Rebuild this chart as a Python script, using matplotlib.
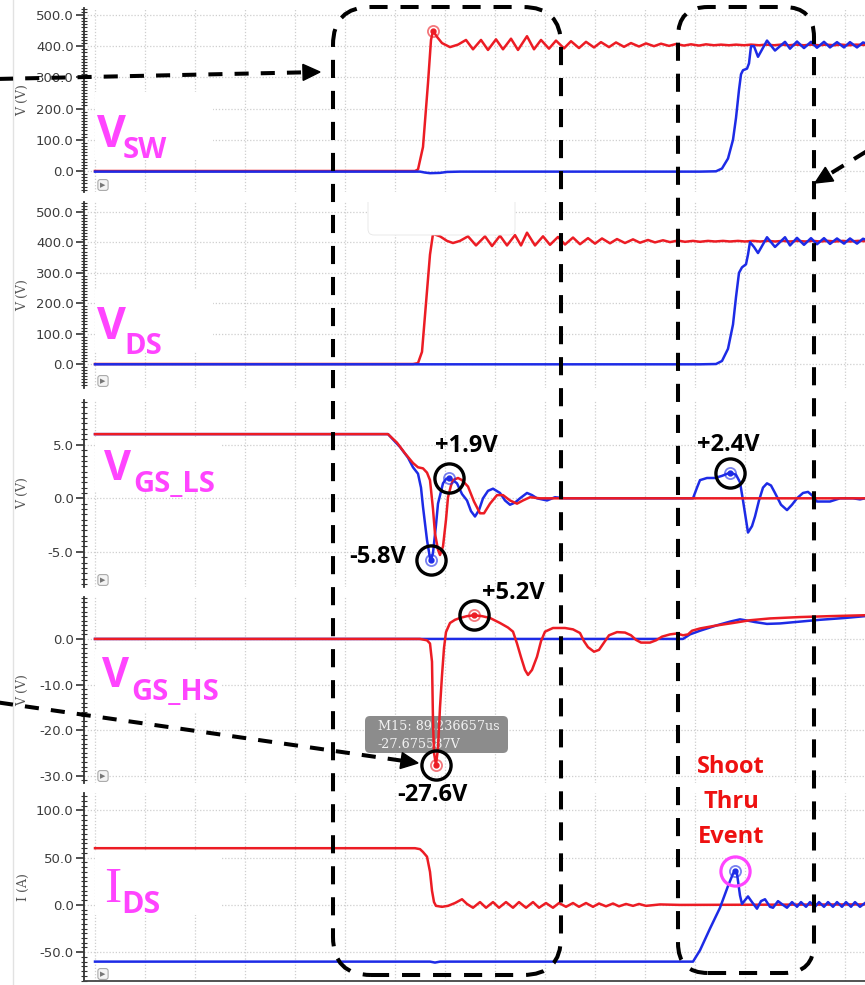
import numpy as np
import matplotlib
matplotlib.use("Agg")
import matplotlib.pyplot as plt
from matplotlib.patches import FancyBboxPatch, Polygon, Rectangle
from matplotlib.lines import Line2D
from matplotlib.transforms import IdentityTransform
from matplotlib.ticker import MultipleLocator, FormatStrFormatter

# ---------------- data: (time [ns, relative], value) ----------------
VSW_RED = [(0, 0), (320, 0), (323, 5), (328, 77), (333, 282), (336, 420), (338, 449), (342, 430), (347, 410),
           (355, 397), (363, 405), (371, 420), (378, 390), (386, 420), (393, 388), (401, 422), (408, 390),
           (416, 424), (423, 388), (432, 432), (439, 390), (446, 420), (454, 392), (461, 418), (469, 393),
           (476, 416), (484, 394), (491, 414), (499, 396), (506, 413), (514, 397), (521, 412), (529, 398),
           (536, 410), (544, 399), (551, 409), (559, 400), (566, 408), (574, 401), (581, 407), (589, 402),
           (596, 406), (604, 402), (611, 406), (619, 403), (626, 405), (634, 403), (641, 405), (649, 403),
           (656, 405), (664, 403), (671, 405), (679, 403), (686, 405), (694, 403), (701, 405), (709, 403),
           (716, 405), (724, 403), (731, 405), (739, 403), (746, 405), (754, 403), (761, 405), (770, 404)]
VSW_BLUE = [(0, -2), (325, -2), (330, -5), (335, -7), (345, -6), (352, -3), (365, -2), (605, -2), (621, -1),
            (627, 8), (633, 40), (638, 100), (641, 170), (644, 260), (646, 310), (648, 323), (652, 328),
            (654, 345), (656, 400), (659, 400), (663, 366), (672, 418), (680, 386), (690, 414), (695, 392),
            (702, 415), (709, 394), (716, 414), (722, 395), (729, 414), (735, 396), (742, 413), (749, 396),
            (755, 413), (762, 396), (768, 412), (770, 410)]
VDS_RED = [(0, 0), (318, 0), (323, 3), (327, 40), (331, 200), (335, 360), (338, 428), (345, 420), (352, 405),
           (358, 398), (365, 405), (373, 420), (381, 390), (390, 420), (397, 388), (405, 422), (412, 390),
           (420, 424), (426, 390), (432, 432), (440, 390), (448, 420), (455, 392), (463, 418), (470, 393),
           (478, 416), (485, 394), (493, 414), (500, 396), (507, 413), (515, 397), (522, 411), (530, 398),
           (538, 410), (545, 399), (553, 408), (560, 400), (568, 407), (575, 401), (583, 406), (590, 402),
           (598, 405), (605, 402), (613, 405), (620, 403), (628, 405), (635, 403), (643, 405), (650, 403),
           (658, 405), (665, 403), (673, 405), (680, 403), (688, 405), (695, 403), (703, 405), (710, 403),
           (718, 405), (725, 403), (733, 405), (740, 403), (748, 405), (755, 403), (763, 405), (770, 404)]
VDS_BLUE = [(0, -1), (605, -1), (621, 0), (627, 10), (633, 50), (638, 130), (641, 220), (644, 300), (647, 318),
            (651, 328), (653, 360), (655, 401), (659, 385), (663, 365), (672, 417), (680, 385), (690, 417),
            (695, 390), (702, 415), (709, 392), (716, 414), (722, 394), (729, 414), (735, 395), (742, 413),
            (749, 396), (755, 413), (762, 396), (768, 412), (770, 410)]
VGSLS_RED = [(0, 6.0), (293, 6.0), (302, 5.2), (310, 4.2), (318, 3.3), (323, 2.9), (328, 2.8), (332, 2.4),
             (335, 1.7), (338, -1.0), (340, -3.3), (343, -4.8), (345, -5.3), (348, -4.5), (351, -2.0),
             (353, 0.1), (356, 1.2), (358, 1.7), (363, 1.9), (367, 1.7), (373, 1.1), (379, -0.3), (385, -1.4),
             (389, -1.4), (395, -0.5), (402, 0.3), (408, 0.3), (415, -0.2), (422, -0.5), (428, -0.2),
             (435, 0.1), (445, 0.0), (770, 0.0)]
VGSLS_BLUE = [(0, 6.0), (293, 6.0), (305, 4.8), (313, 3.8), (318, 2.9), (323, 2.3), (326, 1.0), (328, -0.8),
              (332, -3.9), (335, -5.6), (336, -5.8), (338, -5.1), (341, -2.5), (343, -0.5), (348, 1.4),
              (351, 1.8), (354, 1.9), (358, 1.7), (362, 1.4), (367, 0.4), (372, -0.2), (376, -1.2), (380, -1.7),
              (384, -1.1), (388, 0.0), (393, 0.7), (398, 0.9), (405, 0.5), (410, -0.2), (415, -0.6),
              (420, -0.4), (425, 0.0), (432, 0.5), (437, 0.3), (442, 0.0), (452, -0.2), (460, 0.1), (470, 0.0),
              (598, 0.0), (602, 1.0), (605, 1.7), (612, 1.9), (620, 1.9), (627, 2.1), (635, 2.4), (641, 2.2),
              (645, 1.5), (648, -0.2), (651, -2.0), (653, -3.2), (657, -2.6), (660, -1.7), (664, -0.2),
              (668, 1.0), (672, 1.4), (676, 1.2), (680, 0.5), (686, -0.6), (692, -1.1), (697, -0.6), (702, 0.0),
              (708, 0.5), (713, 0.6), (718, 0.2), (722, -0.3), (727, -0.3), (735, -0.3), (745, 0.0), (758, 0.0),
              (765, -0.1), (770, 0.0)]
VGSHS_RED = [(0, 0), (325, 0), (332, -0.3), (335, -1.0), (337, -5.0), (338, -18.0), (339, -25.0), (341, -27.6),
             (343, -24.0), (345, -15.0), (347, -8.0), (349, -2.0), (351, 1.5), (355, 3.5), (360, 4.2),
             (365, 4.6), (372, 5.0), (379, 5.2), (387, 5.0), (395, 4.6), (405, 3.5), (413, 2.5), (418, 1.6),
             (422, -1.0), (426, -4.0), (430, -6.8), (433, -7.9), (437, -6.8), (442, -3.9), (446, -0.5),
             (450, 1.6), (458, 2.4), (470, 2.4), (478, 2.1), (485, 1.3), (489, -0.5), (493, -1.8), (499, -2.8),
             (504, -2.4), (509, -0.8), (514, 0.8), (522, 1.5), (530, 1.4), (536, 0.8), (541, -0.2), (546, -0.8),
             (555, -0.8), (561, -0.3), (567, 0.5), (575, 1.0), (582, 1.2), (588, 0.8), (593, 1.0), (597, 1.8),
             (605, 2.3), (620, 2.9), (638, 3.5), (655, 4.1), (675, 4.5), (705, 4.8), (735, 5.0), (770, 5.2)]
VGSHS_BLUE = [(0, 0), (588, 0), (595, 1.0), (605, 1.8), (622, 3.0), (635, 3.8), (645, 4.3), (653, 4.0),
              (660, 3.7), (672, 3.3), (685, 3.4), (705, 3.8), (725, 4.2), (750, 4.6), (770, 5.0)]
IDS_RED = [(0, 60), (320, 60), (325, 59), (328, 56), (332, 51), (335, 35), (337, 15), (339, 3), (341, -1),
           (347, -2), (353, -1), (360, 2), (367, 6), (372, 1), (378, -3), (385, 3), (391, -3), (398, 3),
           (404, -3), (411, 3), (418, -3), (424, 3), (431, -3), (438, 3), (444, -3), (451, 2), (458, -3),
           (464, 2), (471, -2), (478, 2), (484, -2), (491, 2), (498, -2), (504, 1.5), (511, -1.5), (518, 1.5),
           (524, -1.5), (531, 1), (538, -1), (544, 1), (551, -1), (565, 0.5), (585, 0), (770, 0.5)]
IDS_BLUE = [(0, -60), (335, -60), (340, -61), (345, -60), (598, -60), (605, -48), (615, -25), (625, -3),
            (633, 20), (638, 33), (640, 36), (642, 33), (645, 10), (647, 1), (650, 5), (653, 9), (657, 3),
            (662, -4), (666, 4), (670, 6), (675, -2), (678, -3), (683, 4), (688, 0), (692, -3), (697, 3),
            (702, -2), (706, 3), (711, -2), (715, 3), (720, -2), (724, 3), (729, -2), (733, 3), (738, -2),
            (742, 3), (747, -2), (751, 3), (756, -2), (760, 3), (765, -2), (770, 2)]

# marked points (time, value) and annotation text
MARK_VSW = [(338, 449)]
MARK_LS = [(336, -5.8), (354, 1.9), (635, 2.4)]
MARK_HS = [(379, 5.2), (341, -27.6)]
MARK_IDS = [(640, 36)]

# ---------------- styling ----------------
W, H = 865, 985
RED = '#ec1c24'
BLUE = '#1d2be6'
MAG = '#ff44ff'
ID = IdentityTransform()

fig = plt.figure(figsize=(W / 100, H / 100), dpi=100)
fig.patch.set_facecolor('white')


def X(px):
    return px / W


def Y(py):
    return 1 - py / H


panels = [
    dict(top=8, bot=192, ylim=(-67.3, 522.4), major=100, minor=10, ylab='V (V)',
         blue=VSW_BLUE, red=VSW_RED, red_on_top=False),
    dict(top=202, bot=388, ylim=(-78.9, 532.9), major=100, minor=10, ylab='V (V)',
         blue=VDS_BLUE, red=VDS_RED, red_on_top=False),
    dict(top=400, bot=587, ylim=(-8.29, 9.19), major=5, minor=0.5, ylab='V (V)',
         blue=VGSLS_BLUE, red=VGSLS_RED, red_on_top=True),
    dict(top=597, bot=783, ylim=(-31.6, 9.2), major=10, minor=1, ylab='V (V)',
         blue=VGSHS_BLUE, red=VGSHS_RED, red_on_top=True),
    dict(top=793, bot=981, ylim=(-80.5, 118.4), major=50, minor=5, ylab='I (A)',
         blue=IDS_BLUE, red=IDS_RED, red_on_top=False),
]

axes = []
for i, p in enumerate(panels):
    ax = fig.add_axes([X(84), Y(p['bot']), (W - 84) / W, (p['bot'] - p['top']) / H])
    axes.append(ax)
    ax.set_xlim(-11, 770)
    ax.set_ylim(*p['ylim'])
    ax.yaxis.set_major_locator(MultipleLocator(p['major']))
    ax.yaxis.set_minor_locator(MultipleLocator(p['minor']))
    ax.yaxis.set_major_formatter(FormatStrFormatter('%.1f'))
    ax.xaxis.set_major_locator(MultipleLocator(50))
    ax.tick_params(axis='x', length=0, labelbottom=False)
    ax.tick_params(axis='y', which='major', direction='out', length=6, width=1.2,
                   color='#333333', labelsize=9.5, labelcolor='#3c3c3c', pad=1.5)
    ax.tick_params(axis='y', which='minor', direction='inout', length=5, width=0.8, color='#333333')
    for s in ['top', 'right', 'bottom']:
        ax.spines[s].set_visible(False)
    ax.spines['left'].set_color('#333333')
    ax.spines['left'].set_linewidth(1.3)
    if i == 4:
        ax.spines['bottom'].set_visible(True)
        ax.spines['bottom'].set_color('#444444')
        ax.spines['bottom'].set_linewidth(1.3)
    ax.grid(True, which='major', color='#cfcfcf', linestyle=(0, (1, 1.5)), linewidth=0.9)
    ax.set_axisbelow(True)
    b = np.array(p['blue'], dtype=float)
    r = np.array(p['red'], dtype=float)
    zr, zb = (2.2, 2.1) if p['red_on_top'] else (2.1, 2.2)
    ax.plot(b[:, 0], b[:, 1], color=BLUE, lw=1.8, zorder=zb, solid_joinstyle='round')
    ax.plot(r[:, 0], r[:, 1], color=RED, lw=1.8, zorder=zr, solid_joinstyle='round')
    fig.text(X(23), Y((p['top'] + p['bot']) / 2), p['ylab'], rotation=90, ha='center', va='center',
             family='DejaVu Serif', size=9, color='#555555')
    # little play-button box
    fig.text(X(103), Y(p['bot'] - 7), '\u25B6', fontsize=5, color='#777777', ha='center', va='center',
             bbox=dict(boxstyle='round,pad=0.35', fc='#f4f4f4', ec='#aaaaaa', lw=0.8))


def white_box(ax, x0, y0, x1, y1, z=1.0, rounded=False):
    if rounded:
        patch = FancyBboxPatch((x0, H - y1), x1 - x0, y1 - y0, boxstyle='round,pad=0,rounding_size=6',
                               transform=ID, fc='white', ec='#e6e6e6', lw=0.6, zorder=z)
    else:
        patch = Rectangle((x0, H - y1), x1 - x0, y1 - y0, transform=ID, fc='white', ec='none', zorder=z)
    ax.add_patch(patch)


white_box(axes[0], 95, 92, 213, 160)
white_box(axes[1], 95, 290, 213, 352)
white_box(axes[1], 368, 196, 515, 235, z=3, rounded=True)
white_box(axes[2], 95, 437, 222, 492)
white_box(axes[3], 95, 650, 222, 712)
white_box(axes[4], 95, 852, 222, 915)

# marker rings
for ax, pts, col in [(axes[0], MARK_VSW, RED), (axes[2], MARK_LS, BLUE), (axes[3], MARK_HS, RED),
                     (axes[4], MARK_IDS, BLUE)]:
    for (t, v) in pts:
        ax.plot([t], [v], 'o', ms=8, mfc='none', mec=col, mew=1.3, alpha=0.6, zorder=4)
        ax.plot([t], [v], 'o', ms=3.5, color=col, zorder=4)

# black highlight circles
for ax, pts in [(axes[2], MARK_LS), (axes[3], MARK_HS)]:
    for (t, v) in pts:
        ax.plot([t], [v], 'o', ms=21, mfc='none', mec='black', mew=2.4, zorder=6, clip_on=False)
t, v = MARK_IDS[0]
axes[4].plot([t], [v], 'o', ms=21, mfc='none', mec=MAG, mew=2.3, zorder=6, clip_on=False)

# tooltip in V_GS_HS panel
ax4 = axes[3]
ax4.add_patch(FancyBboxPatch((365, H - 753), 143, 37, boxstyle='round,pad=0,rounding_size=5', transform=ID,
                             fc='#8c8c8c', ec='none', zorder=1.5))
ax4.text(378, H - 726, 'M15: 89.236657us', transform=ID, family='DejaVu Serif', size=9.2, color='#f2f2f2',
         va='center', ha='left', zorder=1.6)
ax4.text(378, H - 744, '-27.675587V', transform=ID, family='DejaVu Serif', size=9.2, color='#f2f2f2',
         va='center', ha='left', zorder=1.6)

# signal labels
LBL = dict(family='Open Sans', fontweight='bold', color=MAG, ha='left', va='baseline')
fig.text(X(97), Y(147), 'V', fontsize=32, **LBL)
fig.text(X(123), Y(158), 'SW', fontsize=21, **LBL)
fig.text(X(97), Y(339), 'V', fontsize=32, **LBL)
fig.text(X(124), Y(354), 'DS', fontsize=21, **LBL)
fig.text(X(104), Y(480), 'V', fontsize=30, **LBL)
fig.text(X(133), Y(492), 'GS_LS', fontsize=21, **LBL)
fig.text(X(102), Y(687), 'V', fontsize=30, **LBL)
fig.text(X(131), Y(700), 'GS_HS', fontsize=21, **LBL)
fig.text(X(104), Y(902), 'I', fontsize=37, family='Liberation Serif', color=MAG, ha='left', va='baseline')
fig.text(X(121), Y(913), 'DS', fontsize=22, **LBL)

# value annotations
ANN = dict(family='Open Sans', fontweight='bold', color='black', ha='center', va='center', fontsize=17)
fig.text(X(466), Y(446), '+1.9V', **ANN)
fig.text(X(378), Y(557), '-5.8V', **ANN)
fig.text(X(728), Y(445), '+2.4V', **ANN)
fig.text(X(513), Y(593), '+5.2V', **ANN)
fig.text(X(432), Y(795), '-27.6V', **ANN)
ANN_R = dict(ANN, color='#ee1111')
fig.text(X(731), Y(767), 'Shoot', **ANN_R)
fig.text(X(731), Y(802), 'Thru', **ANN_R)
fig.text(X(731), Y(837), 'Event', **ANN_R)

# dashed rounded boxes
DASH = (0, (4.5, 3.2))
for (x0, y0, x1, y1, rs) in [(333, 7, 561, 975, 38), (678, 7, 814, 973, 30)]:
    fig.add_artist(FancyBboxPatch((x0, H - y1), x1 - x0, y1 - y0,
                                  boxstyle=f'round,pad=0,rounding_size={rs}', transform=ID,
                                  fill=False, ec='black', lw=2.9, ls=DASH, zorder=10))


def dashed_arrow(p0, tip, L=17, hw=8):
    a = np.array([p0[0], H - p0[1]], float)
    b = np.array([tip[0], H - tip[1]], float)
    d = (b - a) / np.hypot(*(b - a))
    n = np.array([-d[1], d[0]])
    base = b - d * L
    fig.add_artist(Line2D([a[0], base[0]], [a[1], base[1]], transform=ID, color='black', lw=2.9,
                          ls=(0, (3.5, 3.0)), zorder=10))
    fig.add_artist(Polygon([b, base + n * hw, base - n * hw], closed=True, transform=ID,
                           fc='black', ec='black', zorder=10))


dashed_arrow((-5, 79), (320, 72))
dashed_arrow((885, 140), (815, 183))
dashed_arrow((-5, 702), (418, 763))

# faint frame line at far left
fig.add_artist(Line2D([13, 13], [0, H], transform=ID, color='#e2e2e2', lw=1, zorder=-1))

fig.savefig('out.png', dpi=100)
